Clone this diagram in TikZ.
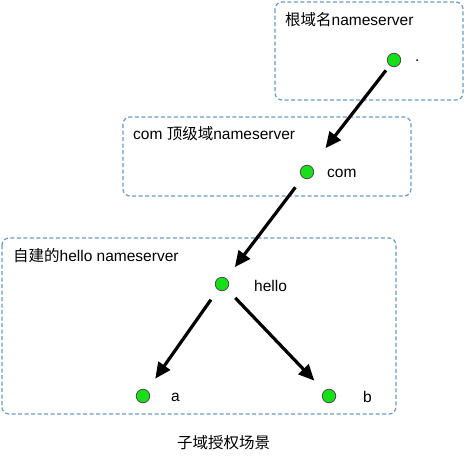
\documentclass[tikz,border=0pt]{standalone}
\usepackage{fontspec}
\setmainfont{Liberation Sans}
\newfontfamily\cjk{Noto Sans CJK SC}
\usetikzlibrary{arrows.meta}
\definecolor{boxblue}{HTML}{6A9AC4}
\definecolor{dotgreen}{HTML}{18E018}
\tikzset{
  zone/.style={draw=boxblue, line width=1.2pt, dash pattern=on 4pt off 2.5pt, rounded corners=7pt},
  dot/.style={circle, draw=black!70, line width=0.8pt, fill=dotgreen, minimum size=13.5pt, inner sep=0pt},
  lbl/.style={anchor=west, inner sep=0pt, font=\fontsize{15.5pt}{17pt}\selectfont},
  arr/.style={-{Triangle[length=16pt,width=14pt]}, line width=3.2pt, black, shorten <=12pt, shorten >=14pt},
}
\begin{document}
\begin{tikzpicture}[x=1pt,y=-1pt]
\useasboundingbox (0,0) rectangle (468,463);
\fill[white] (0,0) rectangle (468,463);
% zones
\draw[zone] (275,2) rectangle (463,100);
\draw[zone] (123,117) rectangle (411,196);
\draw[zone] (2,238) rectangle (396,414);
% titles
\node[lbl] (t1) at (285,20) {{\cjk 根域名}nameserver};
\node[lbl] (t2) at (133,134) {com {\cjk 顶级域}nameserver};
\node[lbl] (t3) at (13,256) {{\cjk 自建的}hello nameserver};
% dots
\node[dot] (root) at (394,60) {};
\node[dot] (com) at (307,172) {};
\node[dot] (hello) at (222,284) {};
\node[dot] (a) at (143,396) {};
\node[dot] (b) at (329,396) {};
% labels
\node[lbl] (lroot) at (415,61) {.};
\node[lbl] (lcom) at (327,173) {com};
\node[lbl] (lhello) at (254,286) {hello};
\node[lbl] (la) at (171,397) {a};
\node[lbl] (lb) at (363,397) {b};
% arrows
\draw[arr, shorten <=6pt, shorten >=23pt] (root) -- (com);
\draw[arr] (com) -- (hello);
\draw[arr] (hello) -- (a);
\draw[arr] (hello) -- (b);
% caption
\node[lbl] (cap) at (177,443) {\cjk 子域授权场景};
\end{tikzpicture}
\end{document}
